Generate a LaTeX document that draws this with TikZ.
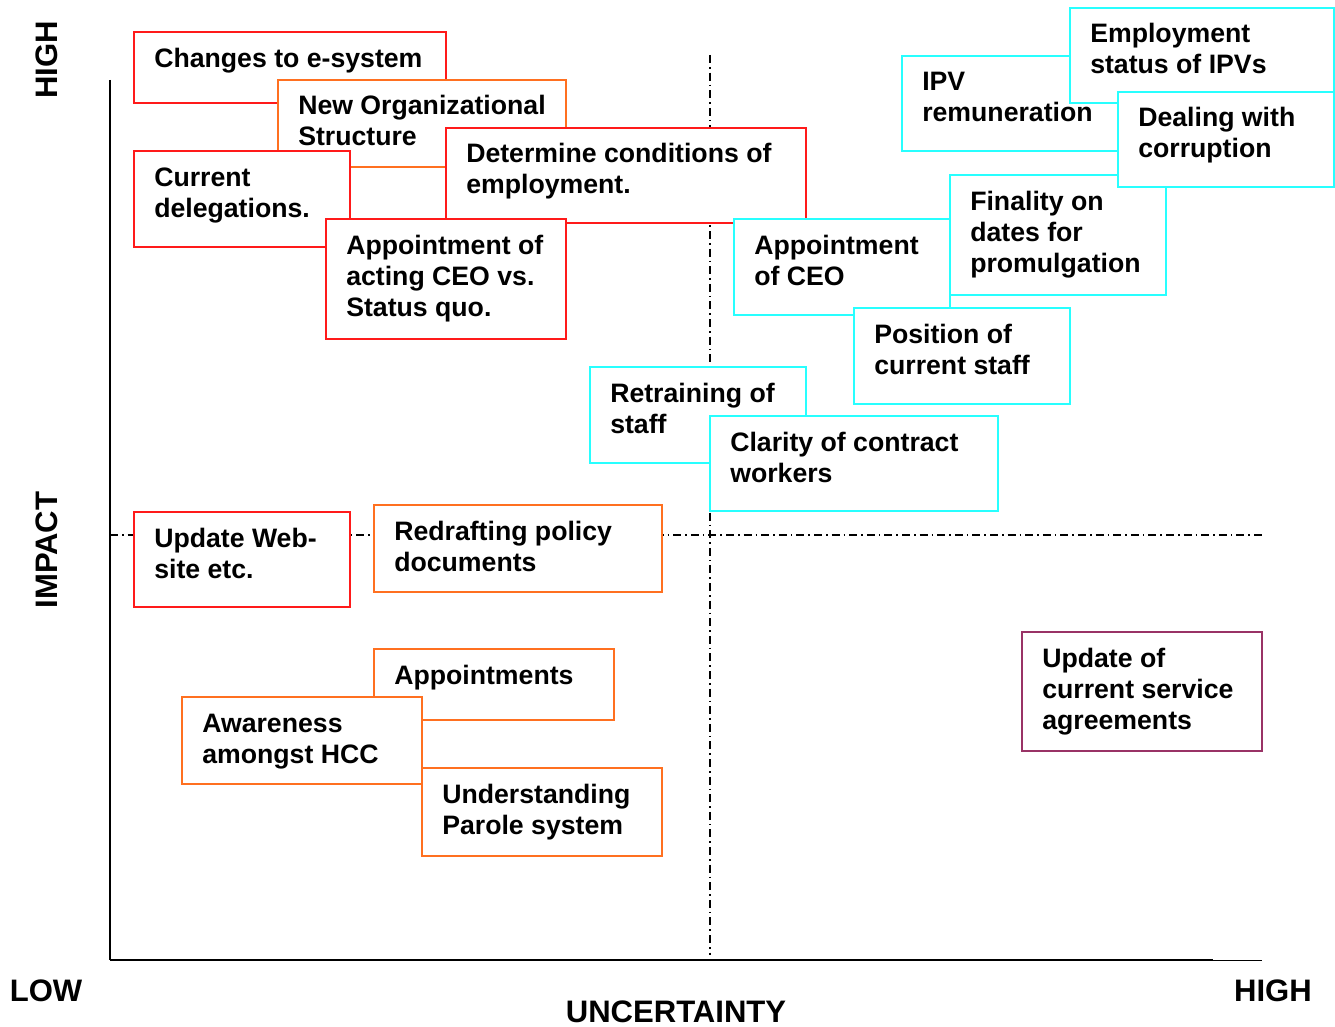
\documentclass[tikz,border=0pt]{standalone}
\usepackage{fontspec}
\setmainfont{Liberation Sans}
\usepackage{tikz}

\definecolor{boxred}{RGB}{255,26,26}
\definecolor{boxorange}{RGB}{255,112,32}
\definecolor{boxcyan}{RGB}{40,255,255}
\definecolor{boxplum}{RGB}{153,51,102}

\begin{document}
\begin{tikzpicture}[x=0.75pt,y=0.75pt,yscale=-1,xscale=1,
  redbox/.style={draw=boxred, fill=white, line width=1.5},
  orangebox/.style={draw=boxorange, fill=white, line width=1.5},
  cyanbox/.style={draw=boxcyan, fill=white, line width=1.5},
  plumbox/.style={draw=boxplum, fill=white, line width=1.5},
  lbl/.style={anchor=base west, inner sep=0pt, align=left, font=\fontsize{20}{23.25}\selectfont\bfseries},
  axislbl/.style={anchor=base, inner sep=0pt, font=\fontsize{23.3}{28}\selectfont\bfseries},
  dashdot line/.style={line width=1.1, dash pattern=on 6pt off 3pt on 1.2pt off 3pt}]
\useasboundingbox (0,0) rectangle (1335,1027);

%Straight Lines: axes and quadrant split
\draw [line width=1.5]  (110,80) -- (110,960) ;
\draw [line width=1.5]  (110,960) -- (1213,960) ;
\draw [line width=0.75]  (1213,960) -- (1262,960) ;
\draw [dashdot line]  (710,55) -- (710,955) ;
\draw [dashdot line]  (110,535) -- (1262,535) ;

% text nodes below sit on the baseline of their last line
%Shape: Rectangle
\draw [redbox]  (134,32) -- (446,32) -- (446,103) -- (134,103) -- cycle ;
\draw (154,68) node [lbl] (esys) {Changes to e-system};
%Shape: Rectangle
\draw [orangebox]  (278,80) -- (566,80) -- (566,167) -- (278,167) -- cycle ;
\draw (298,146) node [lbl] (neworg) {New Organizational\\Structure};
%Shape: Rectangle
\draw [redbox]  (134,151) -- (350,151) -- (350,247) -- (134,247) -- cycle ;
\draw (154,218) node [lbl] (curdeleg) {Current\\delegations.};
%Shape: Rectangle
\draw [redbox]  (446,128) -- (806,128) -- (806,223) -- (446,223) -- cycle ;
\draw (466,194) node [lbl] (condempl) {Determine conditions of\\employment.};
%Shape: Rectangle
\draw [redbox]  (326,219) -- (566,219) -- (566,339) -- (326,339) -- cycle ;
\draw (346,316) node [lbl] (actingceo) {Appointment of\\acting CEO vs.\\Status quo.};

%Shape: Rectangle
\draw [cyanbox]  (734,219) -- (950,219) -- (950,315) -- (734,315) -- cycle ;
\draw (754,285) node [lbl] (apptceo) {Appointment\\of CEO};
%Shape: Rectangle
\draw [cyanbox]  (902,56) -- (1118,56) -- (1118,151) -- (902,151) -- cycle ;
\draw (922,122) node [lbl] (ipvpay) {IPV\\remuneration};
%Shape: Rectangle
\draw [cyanbox]  (1070,8) -- (1334,8) -- (1334,103) -- (1070,103) -- cycle ;
\draw (1090,74) node [lbl] (ipvstatus) {Employment\\status of IPVs};
%Shape: Rectangle
\draw [cyanbox]  (950,175) -- (1166,175) -- (1166,295) -- (950,295) -- cycle ;
\draw (970,272) node [lbl] (finality) {Finality on\\dates for\\promulgation};
%Shape: Rectangle
\draw [cyanbox]  (1118,92) -- (1334,92) -- (1334,187) -- (1118,187) -- cycle ;
\draw (1138,158) node [lbl] (corrupt) {Dealing with\\corruption};
%Shape: Rectangle
\draw [cyanbox]  (854,308) -- (1070,308) -- (1070,404) -- (854,404) -- cycle ;
\draw (874,374) node [lbl] (curstaff) {Position of\\current staff};
%Shape: Rectangle
\draw [cyanbox]  (590,367) -- (806,367) -- (806,463) -- (590,463) -- cycle ;
\draw (610,433) node [lbl] (retrain) {Retraining of\\staff};
%Shape: Rectangle
\draw [cyanbox]  (710,416) -- (998,416) -- (998,511) -- (710,511) -- cycle ;
\draw (730,482) node [lbl] (contract) {Clarity of contract\\workers};

%Shape: Rectangle
\draw [redbox]  (134,512) -- (350,512) -- (350,607) -- (134,607) -- cycle ;
\draw (154,578) node [lbl] (website) {Update Web-\\site etc.};
%Shape: Rectangle
\draw [orangebox]  (374,505) -- (662,505) -- (662,592) -- (374,592) -- cycle ;
\draw (394,571) node [lbl] (policy) {Redrafting policy\\documents};
%Shape: Rectangle
\draw [orangebox]  (374,649) -- (614,649) -- (614,720) -- (374,720) -- cycle ;
\draw (394,684) node [lbl] (appts) {Appointments};
%Shape: Rectangle
\draw [orangebox]  (182,697) -- (422,697) -- (422,784) -- (182,784) -- cycle ;
\draw (202,763) node [lbl] (hcc) {Awareness\\amongst HCC};
%Shape: Rectangle
\draw [orangebox]  (422,768) -- (662,768) -- (662,856) -- (422,856) -- cycle ;
\draw (442,834) node [lbl] (parole) {Understanding\\Parole system};
%Shape: Rectangle
\draw [plumbox]  (1022,632) -- (1262,632) -- (1262,751) -- (1022,751) -- cycle ;
\draw (1042,729) node [lbl] (service) {Update of\\current service\\agreements};

% Axis labels
\draw (57,60) node [axislbl, rotate=90] (impacthigh) {HIGH};
\draw (57,550) node [axislbl, rotate=90] (impact) {IMPACT};
\draw (46,1001) node [axislbl] (uncertlow) {LOW};
\draw (1273,1001) node [axislbl] (uncerthigh) {HIGH};
\draw (676,1022) node [axislbl] (uncert) {UNCERTAINTY};
\end{tikzpicture}
\end{document}
